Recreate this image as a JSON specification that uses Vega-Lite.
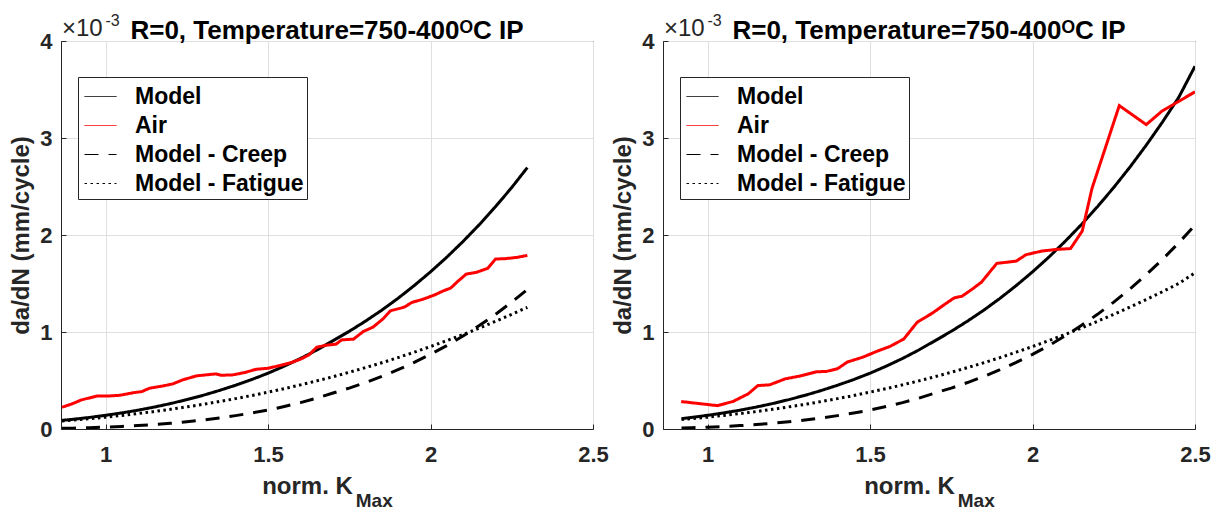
{
  "$schema": "https://vega.github.io/schema/vega-lite/v6.json",
  "padding": {"left": 9, "top": 12, "right": 5, "bottom": 2},
  "spacing": 2,
  "config": {
    "font": "Liberation Sans",
    "view": {"stroke": "#262626", "strokeWidth": 1},
    "axis": {
      "labelFont": "Liberation Sans", "labelFontSize": 22, "labelFontWeight": "bold", "labelColor": "#262626",
      "titleFont": "Liberation Sans", "titleFontSize": 24, "titleFontWeight": "bold", "titleColor": "#262626",
      "domainColor": "#262626", "tickColor": "#262626", "gridColor": "#dfdfdf", "gridWidth": 1,
      "labelFlush": false, "labelOverlap": false, "tickSize": -5
    },
    "axisX": {"labelPadding": 20},
    "axisY": {"labelPadding": 14, "titlePadding": 6},
    "title": {"font": "Liberation Sans", "fontSize": 26, "fontWeight": "bold", "color": "#000000", "anchor": "middle", "offset": -31},
    "legend": {
      "orient": "none", "legendX": 17, "legendY": 36, "title": null,
      "symbolType": "stroke", "symbolSize": 1024, "symbolStrokeWidth": 1, "symbolOffset": 3,
      "labelFont": "Liberation Sans", "labelFontSize": 23, "labelFontWeight": "bold", "labelColor": "#000000",
      "labelOffset": 18, "labelLimit": 400, "rowPadding": -4, "padding": 3,
      "strokeColor": "#262626", "fillColor": "#ffffff"
    }
  },
  "datasets": {
    "L": [
      {"s":"Model","K":0.866,"v":0.089},{"s":"Model","K":0.9,"v":0.100},{"s":"Model","K":0.95,"v":0.119},{"s":"Model","K":1.0,"v":0.141},{"s":"Model","K":1.05,"v":0.166},{"s":"Model","K":1.1,"v":0.194},{"s":"Model","K":1.15,"v":0.226},{"s":"Model","K":1.2,"v":0.262},{"s":"Model","K":1.25,"v":0.303},{"s":"Model","K":1.3,"v":0.347},{"s":"Model","K":1.35,"v":0.397},{"s":"Model","K":1.4,"v":0.451},{"s":"Model","K":1.45,"v":0.510},{"s":"Model","K":1.5,"v":0.575},{"s":"Model","K":1.55,"v":0.648},{"s":"Model","K":1.6,"v":0.727},{"s":"Model","K":1.65,"v":0.814},{"s":"Model","K":1.7,"v":0.910},{"s":"Model","K":1.75,"v":1.007},{"s":"Model","K":1.8,"v":1.112},{"s":"Model","K":1.85,"v":1.225},{"s":"Model","K":1.9,"v":1.347},{"s":"Model","K":1.95,"v":1.479},{"s":"Model","K":2.0,"v":1.620},{"s":"Model","K":2.05,"v":1.771},{"s":"Model","K":2.1,"v":1.933},{"s":"Model","K":2.15,"v":2.106},{"s":"Model","K":2.2,"v":2.292},{"s":"Model","K":2.25,"v":2.490},{"s":"Model","K":2.298,"v":2.695},
      {"s":"Air","K":0.866,"v":0.224},{"s":"Air","K":0.896,"v":0.258},{"s":"Air","K":0.926,"v":0.300},{"s":"Air","K":0.974,"v":0.340},{"s":"Air","K":1.01,"v":0.340},{"s":"Air","K":1.045,"v":0.348},{"s":"Air","K":1.087,"v":0.375},{"s":"Air","K":1.111,"v":0.385},{"s":"Air","K":1.135,"v":0.420},{"s":"Air","K":1.177,"v":0.444},{"s":"Air","K":1.207,"v":0.465},{"s":"Air","K":1.237,"v":0.506},{"s":"Air","K":1.279,"v":0.547},{"s":"Air","K":1.309,"v":0.558},{"s":"Air","K":1.339,"v":0.568},{"s":"Air","K":1.356,"v":0.554},{"s":"Air","K":1.392,"v":0.558},{"s":"Air","K":1.428,"v":0.582},{"s":"Air","K":1.464,"v":0.616},{"s":"Air","K":1.5,"v":0.626},{"s":"Air","K":1.536,"v":0.654},{"s":"Air","K":1.572,"v":0.685},{"s":"Air","K":1.602,"v":0.723},{"s":"Air","K":1.626,"v":0.764},{"s":"Air","K":1.65,"v":0.843},{"s":"Air","K":1.679,"v":0.864},{"s":"Air","K":1.709,"v":0.874},{"s":"Air","K":1.727,"v":0.919},{"s":"Air","K":1.763,"v":0.926},{"s":"Air","K":1.793,"v":1.005},{"s":"Air","K":1.823,"v":1.050},{"s":"Air","K":1.853,"v":1.133},{"s":"Air","K":1.877,"v":1.219},{"s":"Air","K":1.919,"v":1.256},{"s":"Air","K":1.943,"v":1.305},{"s":"Air","K":1.978,"v":1.339},{"s":"Air","K":2.014,"v":1.384},{"s":"Air","K":2.038,"v":1.422},{"s":"Air","K":2.062,"v":1.453},{"s":"Air","K":2.086,"v":1.528},{"s":"Air","K":2.11,"v":1.597},{"s":"Air","K":2.14,"v":1.614},{"s":"Air","K":2.176,"v":1.656},{"s":"Air","K":2.2,"v":1.752},{"s":"Air","K":2.23,"v":1.756},{"s":"Air","K":2.266,"v":1.769},{"s":"Air","K":2.298,"v":1.790},
      {"s":"Model - Creep","K":0.866,"v":0.007},{"s":"Model - Creep","K":0.9,"v":0.009},{"s":"Model - Creep","K":0.95,"v":0.013},{"s":"Model - Creep","K":1.0,"v":0.019},{"s":"Model - Creep","K":1.05,"v":0.026},{"s":"Model - Creep","K":1.1,"v":0.035},{"s":"Model - Creep","K":1.15,"v":0.046},{"s":"Model - Creep","K":1.2,"v":0.059},{"s":"Model - Creep","K":1.25,"v":0.075},{"s":"Model - Creep","K":1.3,"v":0.093},{"s":"Model - Creep","K":1.35,"v":0.114},{"s":"Model - Creep","K":1.4,"v":0.138},{"s":"Model - Creep","K":1.45,"v":0.165},{"s":"Model - Creep","K":1.5,"v":0.195},{"s":"Model - Creep","K":1.55,"v":0.232},{"s":"Model - Creep","K":1.6,"v":0.272},{"s":"Model - Creep","K":1.65,"v":0.318},{"s":"Model - Creep","K":1.7,"v":0.371},{"s":"Model - Creep","K":1.75,"v":0.422},{"s":"Model - Creep","K":1.8,"v":0.479},{"s":"Model - Creep","K":1.85,"v":0.542},{"s":"Model - Creep","K":1.9,"v":0.611},{"s":"Model - Creep","K":1.95,"v":0.687},{"s":"Model - Creep","K":2.0,"v":0.770},{"s":"Model - Creep","K":2.05,"v":0.860},{"s":"Model - Creep","K":2.1,"v":0.959},{"s":"Model - Creep","K":2.15,"v":1.066},{"s":"Model - Creep","K":2.2,"v":1.182},{"s":"Model - Creep","K":2.25,"v":1.308},{"s":"Model - Creep","K":2.298,"v":1.438},
      {"s":"Model - Fatigue","K":0.866,"v":0.082},{"s":"Model - Fatigue","K":0.9,"v":0.091},{"s":"Model - Fatigue","K":0.95,"v":0.106},{"s":"Model - Fatigue","K":1.0,"v":0.122},{"s":"Model - Fatigue","K":1.05,"v":0.140},{"s":"Model - Fatigue","K":1.1,"v":0.159},{"s":"Model - Fatigue","K":1.15,"v":0.180},{"s":"Model - Fatigue","K":1.2,"v":0.203},{"s":"Model - Fatigue","K":1.25,"v":0.228},{"s":"Model - Fatigue","K":1.3,"v":0.254},{"s":"Model - Fatigue","K":1.35,"v":0.283},{"s":"Model - Fatigue","K":1.4,"v":0.313},{"s":"Model - Fatigue","K":1.45,"v":0.345},{"s":"Model - Fatigue","K":1.5,"v":0.380},{"s":"Model - Fatigue","K":1.55,"v":0.416},{"s":"Model - Fatigue","K":1.6,"v":0.455},{"s":"Model - Fatigue","K":1.65,"v":0.496},{"s":"Model - Fatigue","K":1.7,"v":0.539},{"s":"Model - Fatigue","K":1.75,"v":0.585},{"s":"Model - Fatigue","K":1.8,"v":0.633},{"s":"Model - Fatigue","K":1.85,"v":0.683},{"s":"Model - Fatigue","K":1.9,"v":0.736},{"s":"Model - Fatigue","K":1.95,"v":0.792},{"s":"Model - Fatigue","K":2.0,"v":0.850},{"s":"Model - Fatigue","K":2.05,"v":0.911},{"s":"Model - Fatigue","K":2.1,"v":0.974},{"s":"Model - Fatigue","K":2.15,"v":1.040},{"s":"Model - Fatigue","K":2.2,"v":1.110},{"s":"Model - Fatigue","K":2.25,"v":1.182},{"s":"Model - Fatigue","K":2.298,"v":1.254}
    ],
    "R": [
      {"s":"Model","K":0.92,"v":0.107},{"s":"Model","K":0.95,"v":0.119},{"s":"Model","K":1.0,"v":0.141},{"s":"Model","K":1.05,"v":0.166},{"s":"Model","K":1.1,"v":0.194},{"s":"Model","K":1.15,"v":0.226},{"s":"Model","K":1.2,"v":0.262},{"s":"Model","K":1.25,"v":0.303},{"s":"Model","K":1.3,"v":0.347},{"s":"Model","K":1.35,"v":0.397},{"s":"Model","K":1.4,"v":0.451},{"s":"Model","K":1.45,"v":0.510},{"s":"Model","K":1.5,"v":0.575},{"s":"Model","K":1.55,"v":0.648},{"s":"Model","K":1.6,"v":0.727},{"s":"Model","K":1.65,"v":0.814},{"s":"Model","K":1.7,"v":0.910},{"s":"Model","K":1.75,"v":1.007},{"s":"Model","K":1.8,"v":1.112},{"s":"Model","K":1.85,"v":1.225},{"s":"Model","K":1.9,"v":1.347},{"s":"Model","K":1.95,"v":1.479},{"s":"Model","K":2.0,"v":1.620},{"s":"Model","K":2.05,"v":1.771},{"s":"Model","K":2.1,"v":1.933},{"s":"Model","K":2.15,"v":2.106},{"s":"Model","K":2.2,"v":2.292},{"s":"Model","K":2.25,"v":2.490},{"s":"Model","K":2.3,"v":2.701},{"s":"Model","K":2.35,"v":2.926},{"s":"Model","K":2.4,"v":3.165},{"s":"Model","K":2.45,"v":3.419},{"s":"Model","K":2.5,"v":3.740},
      {"s":"Air","K":0.919,"v":0.283},{"s":"Air","K":1.03,"v":0.241},{"s":"Air","K":1.078,"v":0.283},{"s":"Air","K":1.125,"v":0.362},{"s":"Air","K":1.155,"v":0.448},{"s":"Air","K":1.191,"v":0.455},{"s":"Air","K":1.239,"v":0.517},{"s":"Air","K":1.287,"v":0.548},{"s":"Air","K":1.335,"v":0.590},{"s":"Air","K":1.365,"v":0.593},{"s":"Air","K":1.4,"v":0.621},{"s":"Air","K":1.43,"v":0.690},{"s":"Air","K":1.478,"v":0.741},{"s":"Air","K":1.526,"v":0.807},{"s":"Air","K":1.562,"v":0.852},{"s":"Air","K":1.604,"v":0.928},{"s":"Air","K":1.645,"v":1.100},{"s":"Air","K":1.693,"v":1.197},{"s":"Air","K":1.729,"v":1.283},{"s":"Air","K":1.759,"v":1.352},{"s":"Air","K":1.783,"v":1.369},{"s":"Air","K":1.813,"v":1.438},{"s":"Air","K":1.843,"v":1.514},{"s":"Air","K":1.89,"v":1.707},{"s":"Air","K":1.95,"v":1.731},{"s":"Air","K":1.98,"v":1.797},{"s":"Air","K":2.028,"v":1.834},{"s":"Air","K":2.076,"v":1.852},{"s":"Air","K":2.117,"v":1.860},{"s":"Air","K":2.153,"v":2.040},{"s":"Air","K":2.183,"v":2.480},{"s":"Air","K":2.267,"v":3.334},{"s":"Air","K":2.35,"v":3.138},{"s":"Air","K":2.398,"v":3.276},{"s":"Air","K":2.5,"v":3.476},
      {"s":"Model - Creep","K":0.92,"v":0.010},{"s":"Model - Creep","K":0.95,"v":0.013},{"s":"Model - Creep","K":1.0,"v":0.019},{"s":"Model - Creep","K":1.05,"v":0.026},{"s":"Model - Creep","K":1.1,"v":0.035},{"s":"Model - Creep","K":1.15,"v":0.046},{"s":"Model - Creep","K":1.2,"v":0.059},{"s":"Model - Creep","K":1.25,"v":0.075},{"s":"Model - Creep","K":1.3,"v":0.093},{"s":"Model - Creep","K":1.35,"v":0.114},{"s":"Model - Creep","K":1.4,"v":0.138},{"s":"Model - Creep","K":1.45,"v":0.165},{"s":"Model - Creep","K":1.5,"v":0.195},{"s":"Model - Creep","K":1.55,"v":0.232},{"s":"Model - Creep","K":1.6,"v":0.272},{"s":"Model - Creep","K":1.65,"v":0.318},{"s":"Model - Creep","K":1.7,"v":0.371},{"s":"Model - Creep","K":1.75,"v":0.422},{"s":"Model - Creep","K":1.8,"v":0.479},{"s":"Model - Creep","K":1.85,"v":0.542},{"s":"Model - Creep","K":1.9,"v":0.611},{"s":"Model - Creep","K":1.95,"v":0.687},{"s":"Model - Creep","K":2.0,"v":0.770},{"s":"Model - Creep","K":2.05,"v":0.860},{"s":"Model - Creep","K":2.1,"v":0.959},{"s":"Model - Creep","K":2.15,"v":1.066},{"s":"Model - Creep","K":2.2,"v":1.182},{"s":"Model - Creep","K":2.25,"v":1.308},{"s":"Model - Creep","K":2.3,"v":1.444},{"s":"Model - Creep","K":2.35,"v":1.591},{"s":"Model - Creep","K":2.4,"v":1.749},{"s":"Model - Creep","K":2.45,"v":1.919},{"s":"Model - Creep","K":2.5,"v":2.101},
      {"s":"Model - Fatigue","K":0.92,"v":0.097},{"s":"Model - Fatigue","K":0.95,"v":0.106},{"s":"Model - Fatigue","K":1.0,"v":0.122},{"s":"Model - Fatigue","K":1.05,"v":0.140},{"s":"Model - Fatigue","K":1.1,"v":0.159},{"s":"Model - Fatigue","K":1.15,"v":0.180},{"s":"Model - Fatigue","K":1.2,"v":0.203},{"s":"Model - Fatigue","K":1.25,"v":0.228},{"s":"Model - Fatigue","K":1.3,"v":0.254},{"s":"Model - Fatigue","K":1.35,"v":0.283},{"s":"Model - Fatigue","K":1.4,"v":0.313},{"s":"Model - Fatigue","K":1.45,"v":0.345},{"s":"Model - Fatigue","K":1.5,"v":0.380},{"s":"Model - Fatigue","K":1.55,"v":0.416},{"s":"Model - Fatigue","K":1.6,"v":0.455},{"s":"Model - Fatigue","K":1.65,"v":0.496},{"s":"Model - Fatigue","K":1.7,"v":0.539},{"s":"Model - Fatigue","K":1.75,"v":0.585},{"s":"Model - Fatigue","K":1.8,"v":0.633},{"s":"Model - Fatigue","K":1.85,"v":0.683},{"s":"Model - Fatigue","K":1.9,"v":0.736},{"s":"Model - Fatigue","K":1.95,"v":0.792},{"s":"Model - Fatigue","K":2.0,"v":0.850},{"s":"Model - Fatigue","K":2.05,"v":0.911},{"s":"Model - Fatigue","K":2.1,"v":0.974},{"s":"Model - Fatigue","K":2.15,"v":1.040},{"s":"Model - Fatigue","K":2.2,"v":1.110},{"s":"Model - Fatigue","K":2.25,"v":1.182},{"s":"Model - Fatigue","K":2.3,"v":1.257},{"s":"Model - Fatigue","K":2.35,"v":1.335},{"s":"Model - Fatigue","K":2.4,"v":1.416},{"s":"Model - Fatigue","K":2.45,"v":1.500},{"s":"Model - Fatigue","K":2.5,"v":1.610}
    ]
  },
  "hconcat": [
    {
      "width": 532, "height": 388,
      "title": {"text": "R=0, Temperature=750-400ᴼC IP"},
      "layer": [
        {
          "data": {"name": "L"},
          "mark": {"type": "line", "strokeWidth": 3, "clip": true},
          "encoding": {
            "x": {"field": "K", "type": "quantitative", "scale": {"domain": [0.863, 2.5], "nice": false, "zero": false},
                  "axis": {"values": [1, 1.5, 2, 2.5], "format": "~g", "title": "norm. K", "titleX": 246, "titleY": 64, "titleAlign": "center", "titleBaseline": "alphabetic"}},
            "y": {"field": "v", "type": "quantitative", "scale": {"domain": [0, 4], "nice": false},
                  "axis": {"values": [0, 1, 2, 3, 4], "format": "~g", "title": "da/dN (mm/cycle)"}},
            "color": {"field": "s", "type": "nominal", "scale": {"domain": ["Model", "Air", "Model - Creep", "Model - Fatigue"], "range": ["#000000", "#ff0000", "#000000", "#000000"]}},
            "strokeDash": {"field": "s", "type": "nominal", "scale": {"domain": ["Model", "Air", "Model - Creep", "Model - Fatigue"], "range": [[1, 0], [1, 0], [14, 10], [2.5, 3.5]]}}
          }
        },
        {
          "data": {"values": [{}]},
          "mark": {"type": "text", "text": "×10", "align": "left", "baseline": "alphabetic", "fontSize": 24, "fontWeight": "normal", "color": "#262626", "dx": 1, "dy": -5},
          "encoding": {"x": {"datum": 0.863, "type": "quantitative"}, "y": {"datum": 4, "type": "quantitative"}}
        },
        {
          "data": {"values": [{}]},
          "mark": {"type": "text", "text": "-3", "align": "left", "baseline": "alphabetic", "fontSize": 16, "fontWeight": "normal", "color": "#262626", "dx": 0, "dy": -15},
          "encoding": {"x": {"datum": 1.0, "type": "quantitative"}, "y": {"datum": 4, "type": "quantitative"}}
        },
        {
          "data": {"values": [{}]},
          "mark": {"type": "text", "text": "Max", "align": "left", "baseline": "alphabetic", "fontSize": 19, "fontWeight": "bold", "color": "#262626"},
          "encoding": {"x": {"datum": 1.77, "type": "quantitative"}, "y": {"datum": -0.804, "type": "quantitative"}}
        }
      ]
    },
    {
      "width": 532, "height": 388,
      "title": {"text": "R=0, Temperature=750-400ᴼC IP"},
      "layer": [
        {
          "data": {"name": "R"},
          "mark": {"type": "line", "strokeWidth": 3, "clip": true},
          "encoding": {
            "x": {"field": "K", "type": "quantitative", "scale": {"domain": [0.863, 2.5], "nice": false, "zero": false},
                  "axis": {"values": [1, 1.5, 2, 2.5], "format": "~g", "title": "norm. K", "titleX": 246, "titleY": 64, "titleAlign": "center", "titleBaseline": "alphabetic"}},
            "y": {"field": "v", "type": "quantitative", "scale": {"domain": [0, 4], "nice": false},
                  "axis": {"values": [0, 1, 2, 3, 4], "format": "~g", "title": "da/dN (mm/cycle)"}},
            "color": {"field": "s", "type": "nominal", "scale": {"domain": ["Model", "Air", "Model - Creep", "Model - Fatigue"], "range": ["#000000", "#ff0000", "#000000", "#000000"]}},
            "strokeDash": {"field": "s", "type": "nominal", "scale": {"domain": ["Model", "Air", "Model - Creep", "Model - Fatigue"], "range": [[1, 0], [1, 0], [14, 10], [2.5, 3.5]]}}
          }
        },
        {
          "data": {"values": [{}]},
          "mark": {"type": "text", "text": "×10", "align": "left", "baseline": "alphabetic", "fontSize": 24, "fontWeight": "normal", "color": "#262626", "dx": 1, "dy": -5},
          "encoding": {"x": {"datum": 0.863, "type": "quantitative"}, "y": {"datum": 4, "type": "quantitative"}}
        },
        {
          "data": {"values": [{}]},
          "mark": {"type": "text", "text": "-3", "align": "left", "baseline": "alphabetic", "fontSize": 16, "fontWeight": "normal", "color": "#262626", "dx": 0, "dy": -15},
          "encoding": {"x": {"datum": 1.0, "type": "quantitative"}, "y": {"datum": 4, "type": "quantitative"}}
        },
        {
          "data": {"values": [{}]},
          "mark": {"type": "text", "text": "Max", "align": "left", "baseline": "alphabetic", "fontSize": 19, "fontWeight": "bold", "color": "#262626"},
          "encoding": {"x": {"datum": 1.77, "type": "quantitative"}, "y": {"datum": -0.804, "type": "quantitative"}}
        }
      ]
    }
  ],
  "resolve": {
    "scale": {"x": "independent", "y": "independent", "color": "independent", "strokeDash": "independent"},
    "legend": {"color": "independent", "strokeDash": "independent"}
  }
}
